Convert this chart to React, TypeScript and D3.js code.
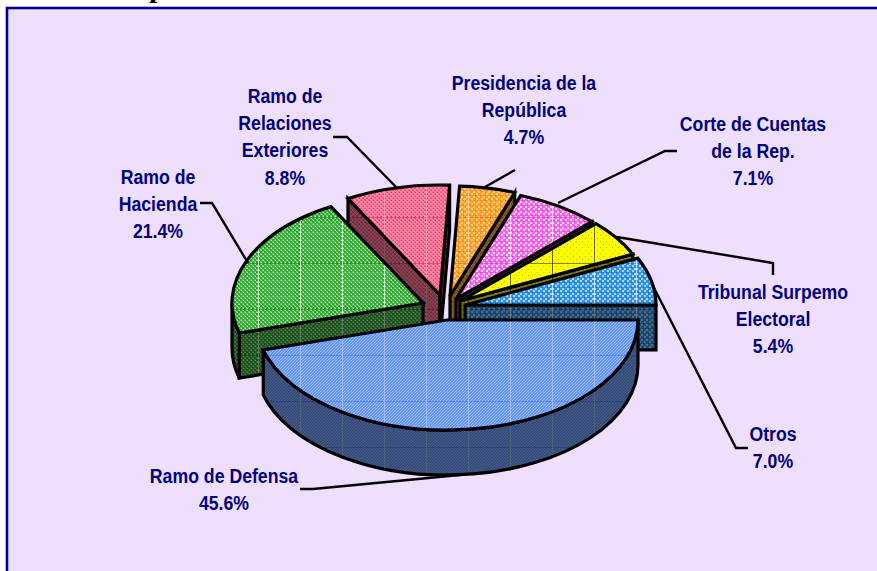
import React from "react";
import * as d3 from "d3";

const categories = ["Ramo de Defensa", "Ramo de Hacienda", "Ramo de Relaciones Exteriores", "Presidencia de la República", "Corte de Cuentas de la Rep.", "Tribunal Surpemo Electoral", "Otros"];
const values = [45.6, 21.4, 8.8, 4.7, 7.1, 5.4, 7.0];
const valueLabels = ["45.6%", "21.4%", "8.8%", "4.7%", "7.1%", "5.4%", "7.0%"];
const labelLines = [
  ["Ramo de Defensa"],
  ["Ramo de", "Hacienda"],
  ["Ramo de", "Relaciones", "Exteriores"],
  ["Presidencia de la", "República"],
  ["Corte de Cuentas", "de la Rep."],
  ["Tribunal Surpemo", "Electoral"],
  ["Otros"],
];

const W = 877, H = 571;
const RX = 191, RY = 110, DEPTH = 45;
// exploded slice apex and label layout
const apexes: [number, number][] = [[447, 320], [423, 303], [440, 295], [450, 296], [456, 299], [460, 301], [465, 305]];
const labelPos: [number, number][] = [[224, 483], [158, 184], [285, 103], [524, 90], [753, 131], [773, 299], [773, 441]];
const leaders: [number, number][][] = [
  [[300, 489], [313, 489], [460, 475]],
  [[200, 203], [212, 203], [248, 263]],
  [[333, 137], [347, 137], [397, 188]],
  [[485, 187], [515, 170]],
  [[558, 203], [665, 151], [677, 151]],
  [[617, 237], [773, 263], [773, 275]],
  [[653, 286], [736, 448], [748, 448]],
];
const drawOrder = [2, 3, 4, 5, 6, 1, 0];
const textures = [
  { base: "#6495ff", dot: "#9dbcff", v: "#a8c4ff", h: "#4a78e8", kind: "diag" },
  { base: "#66cc66", dot: "#389c38", dot2: "#b4f4b4", v: "#e0ffe0", h: "#1c8c1c", kind: "check" },
  { base: "#ff5c86", dot: "#ff8fa8", dot2: "#e83a68", v: "#ffa0b8", h: "#d83060", kind: "check" },
  { base: "#ff9a2e", dot: "#ffd070", dot2: "#f07c10", v: "#ffd8a0", h: "#d87010", kind: "dots" },
  { base: "#ff5cf0", dot: "#ffe0ff", dot2: "#ff30e8", v: "#ffe8ff", h: "#d030c0", kind: "dots" },
  { base: "#ffff00", dot: "#b8b800", v: "#403c00", h: "#403c00", kind: "sparse" },
  { base: "#2f8fe8", dot: "#a8d8ff", dot2: "#1870c8", v: "#e0f0ff", h: "#1870c8", kind: "dots" },
];

const pie = d3.pie<number>().sort(null).startAngle(Math.PI / 2).endAngle(Math.PI * 2.5);
const arcs = pie(values);

const pt = (c: [number, number], a: number, dy = 0): [number, number] => [c[0] + RX * Math.sin(a), c[1] - RY * Math.cos(a) + dy];
const ell = (to: [number, number], sweep: number, large = 0) => `A${RX},${RY} 0 ${large} ${sweep} ${to[0]},${to[1]}`;

function topPath(c: [number, number], a0: number, a1: number) {
  const p0 = pt(c, a0), p1 = pt(c, a1);
  return `M${c[0]},${c[1]}L${p0[0]},${p0[1]}${ell(p1, 1, a1 - a0 > Math.PI ? 1 : 0)}Z`;
}
function radialWall(c: [number, number], a: number) {
  const p = pt(c, a);
  return `M${c[0]},${c[1]}L${p[0]},${p[1]}L${p[0]},${p[1] + DEPTH}L${c[0]},${c[1] + DEPTH}Z`;
}
function outerWall(c: [number, number], a0: number, a1: number) {
  const s = Math.max(a0, Math.PI / 2), e = Math.min(a1, Math.PI * 1.5);
  if (e <= s) return null;
  const p0 = pt(c, s), p1 = pt(c, e), q1 = pt(c, e, DEPTH), q0 = pt(c, s, DEPTH);
  const large = e - s > Math.PI ? 1 : 0;
  return `M${p0[0]},${p0[1]}${ell(p1, 1, large)}L${q1[0]},${q1[1]}${ell(q0, 0, large)}Z`;
}

function Dither({ id, t }: { id: string; t: any }) {
  if (t.kind === "diag") {
    return (
      <pattern id={id} patternUnits="userSpaceOnUse" width={3} height={3}>
        <rect width={3} height={3} fill={t.base} />
        <rect x={2} y={0} width={1} height={1} fill={t.dot} />
        <rect x={1} y={1} width={1} height={1} fill={t.dot} />
        <rect x={0} y={2} width={1} height={1} fill={t.dot} />
      </pattern>
    );
  }
  if (t.kind === "check") {
    return (
      <pattern id={id} patternUnits="userSpaceOnUse" width={4} height={4}>
        <rect width={4} height={4} fill={t.base} />
        <rect x={0} y={0} width={2} height={2} fill={t.dot} />
        <rect x={2} y={2} width={2} height={2} fill={t.dot} />
        <rect x={1} y={3} width={1} height={1} fill={t.dot2} />
        <rect x={3} y={1} width={1} height={1} fill={t.dot2} />
      </pattern>
    );
  }
  if (t.kind === "dots") {
    return (
      <pattern id={id} patternUnits="userSpaceOnUse" width={5} height={5}>
        <rect width={5} height={5} fill={t.base} />
        <rect x={0} y={0} width={2} height={2} fill={t.dot} />
        <rect x={3} y={2} width={2} height={2} fill={t.dot} />
        <rect x={2} y={4} width={1} height={1} fill={t.dot2} />
      </pattern>
    );
  }
  return (
    <pattern id={id} patternUnits="userSpaceOnUse" width={6} height={6}>
      <rect width={6} height={6} fill={t.base} />
      <rect x={0} y={0} width={1} height={1} fill={t.dot} />
      <rect x={3} y={3} width={1} height={1} fill={t.dot} />
    </pattern>
  );
}

const line = d3.line();
const OUT = "#000";
const SW = 3.2;

function Wall({ d, i }: { d: string; i: number }) {
  return (
    <g>
      <path d={d} fill={`url(#tex${i})`} />
      <path d={d} fill="#000" fillOpacity={0.5} stroke={OUT} strokeWidth={SW} strokeLinejoin="miter" />
    </g>
  );
}

export default function App() {
  return (
    <svg width={W} height={H} style={{ position: "absolute", left: 0, top: 0, background: "#fff" }}>
      <defs>
        {textures.map((t, i) => <Dither key={i} id={`dither${i}`} t={t} />)}
        {textures.map((t, i) => (
          <pattern key={i} id={`tex${i}`} patternUnits="userSpaceOnUse" x={6} y={33} width={42} height={46}>
            <rect width={42} height={46} fill={`url(#dither${i})`} />
            <rect x={0} y={0} width={42} height={1} fill={t.h} opacity={0.6} />
            <rect x={0} y={0} width={1} height={46} fill={t.v} opacity={0.8} />
          </pattern>
        ))}
      </defs>
      <text x={149} y={-3.5} fontFamily="Liberation Serif" fontSize={30} fontWeight="bold" fill="#000">p</text>
      <rect x={7} y={8} width={W} height={H} fill="#eedfff" stroke="#000090" strokeWidth={2.6} />

      {drawOrder.map((i) => {
        const a = arcs[i], c = apexes[i];
        const outer = outerWall(c, a.startAngle, a.endAngle);
        // a cut face shows only when its outward normal leans toward the viewer
        const showStart = Math.cos(a.startAngle - Math.PI / 2) < 0;
        const showEnd = Math.cos(a.endAngle + Math.PI / 2) < 0;
        return (
          <g key={i}>
            {showStart && <Wall d={radialWall(c, a.startAngle)} i={i} />}
            {showEnd && <Wall d={radialWall(c, a.endAngle)} i={i} />}
            {outer && <Wall d={outer} i={i} />}
            <path d={topPath(c, a.startAngle, a.endAngle)} fill={`url(#tex${i})`} stroke={OUT} strokeWidth={SW} strokeLinejoin="miter" />
          </g>
        );
      })}

      {leaders.map((l, i) => (
        <path key={i} d={line(l) as string} fill="none" stroke="#000" strokeWidth={2.4} />
      ))}

      {categories.map((name, i) => {
        const lines = [...labelLines[i], valueLabels[i]];
        return (
          <g key={name}>
            {lines.map((s, k) => (
              <text
                key={k}
                transform={`translate(${labelPos[i][0]},${labelPos[i][1] + k * 27.2}) scale(0.85,1)`}
                textAnchor="middle"
                fontFamily="Liberation Sans"
                fontWeight="bold"
                fontSize={20.8}
                fill="#000080"
              >{s}</text>
            ))}
          </g>
        );
      })}
    </svg>
  );
}
